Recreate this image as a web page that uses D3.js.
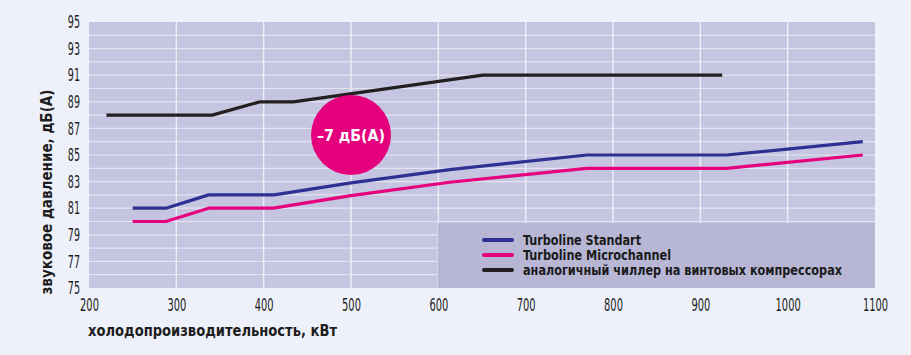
<!DOCTYPE html>
<html><head><meta charset="utf-8">
<script src="https://cdn.jsdelivr.net/npm/d3@7"></script>
<style>
html,body{margin:0;padding:0;background:#eef1f9;}
svg{display:block;}
</style></head>
<body>
<svg id="chart" width="911" height="355"></svg>
<script>
// ---- data ----
const xTicks = [200,300,400,500,600,700,800,900,1000,1100];
const yTicks = [75,77,79,81,83,85,87,89,91,93,95];
const seriesNames = ["Turboline Standart","Turboline Microchannel","аналогичный чиллер на винтовых компрессорах"];
const standartX = [250,288,337,412,500,613,770,930,1086];
const standartY = [81,81,82,82,82.9,83.9,85,85,86];
const microX = [250,288,337,411,500,613,770,930,1086];
const microY = [80,80,81,81,81.95,82.95,84,84,85];
const screwX = [220,341,396,434,651,925];
const screwY = [88,88,89,89,91,91];
const badgeLabel = "–7 дБ(A)";
const xTitle = "холодопроизводительность, кВт";
const yTitle = "звуковое давление, дБ(A)";
const colors = ["#2e3192","#e5007d","#231f20"];

const svg = d3.select("#chart");
const L=89, R=875, T=22, B=288;
const x = d3.scaleLinear().domain([200,1100]).range([L,R]);
const y = d3.scaleLinear().domain([75,95]).range([B,T]);

svg.append("rect").attr("x",L).attr("y",T).attr("width",R-L).attr("height",B-T).attr("fill","#c6c5e1");

// grid
const g = svg.append("g");
g.selectAll("line.h").data(d3.range(76,95)).join("line")
 .attr("x1",L).attr("x2",R).attr("y1",d=>y(d)).attr("y2",d=>y(d))
 .attr("stroke","#e4e4f2").attr("stroke-width",1.2);
g.selectAll("line.v").data(xTicks.slice(1,-1)).join("line")
 .attr("x1",d=>x(d)).attr("x2",d=>x(d)).attr("y1",T).attr("y2",B)
 .attr("stroke","#eeeef8").attr("stroke-width",1.4);

// legend box
svg.append("rect").attr("x",438).attr("y",223).attr("width",R-438).attr("height",B-223).attr("fill","#b7b6d5");

const lineGen = d3.line().x(d=>x(d[0])).y(d=>y(d[1]));
const series = [
  d3.zip(standartX,standartY),
  d3.zip(microX,microY),
  d3.zip(screwX,screwY)
];
series.forEach((s,i)=>{
  svg.append("path").datum(s).attr("d",lineGen).attr("fill","none")
   .attr("stroke",colors[i]).attr("stroke-width",3.2).attr("stroke-linejoin","round");
});

// badge
svg.append("circle").attr("cx",x(500)).attr("cy",135).attr("r",40).attr("fill","#e5007d");
svg.append("text").attr("x",x(500)).attr("y",141).attr("text-anchor","middle")
 .attr("fill","#fff").attr("font-family","'DejaVu Sans Condensed','DejaVu Sans'")
 .attr("font-weight","bold").attr("font-size",16).text(badgeLabel)
 .attr("textLength",68).attr("lengthAdjust","spacingAndGlyphs");

// legend
const lg = svg.append("g");
seriesNames.forEach((n,i)=>{
  const yy = 240 + i*15;
  lg.append("line").attr("x1",484).attr("x2",512).attr("y1",yy).attr("y2",yy)
    .attr("stroke",colors[i]).attr("stroke-width",4).attr("stroke-linecap","round");
  lg.append("text").attr("x",523).attr("y",yy+5).text(n)
    .attr("font-family","'DejaVu Sans Condensed','DejaVu Sans'").attr("font-weight","bold")
    .attr("font-size",13.5).attr("fill","#1a1a1a");
});
lg.selectAll("text").each(function(d,i){
  const w=[118,148,319][i];
  d3.select(this).attr("textLength",w).attr("lengthAdjust","spacingAndGlyphs");
});

// axes
const tickFont = "'Liberation Sans Narrow','DejaVu Sans Condensed',sans-serif";
const xAxis = svg.append("g").attr("transform",`translate(0,${B})`)
 .call(d3.axisBottom(x).tickValues(xTicks).tickSize(0).tickPadding(10).tickFormat(d3.format("d")));
xAxis.select(".domain").remove();
xAxis.selectAll("text").attr("font-family",tickFont).attr("font-size",18).attr("fill","#1d1d1d")
 .attr("textLength",function(d){return String(d).length*6.3;}).attr("lengthAdjust","spacingAndGlyphs");

const yAxis = svg.append("g").attr("transform",`translate(${L},0)`)
 .call(d3.axisLeft(y).tickValues(yTicks).tickSize(0).tickPadding(9).tickFormat(d3.format("d")));
yAxis.select(".domain").remove();
yAxis.selectAll("text").attr("font-family",tickFont).attr("font-size",18).attr("fill","#1d1d1d")
 .attr("textLength",function(d){return String(d).length*6.1;}).attr("lengthAdjust","spacingAndGlyphs");

svg.append("text").attr("x",88).attr("y",336).text(xTitle)
 .attr("font-family","'DejaVu Sans Condensed','DejaVu Sans'").attr("font-weight","bold")
 .attr("font-size",16).attr("fill","#1d1d1d").attr("textLength",249).attr("lengthAdjust","spacingAndGlyphs");
svg.append("text").attr("transform","translate(52,192) rotate(-90)").attr("text-anchor","middle").text(yTitle)
 .attr("font-family","'DejaVu Sans Condensed','DejaVu Sans'").attr("font-weight","bold")
 .attr("font-size",15).attr("fill","#1d1d1d").attr("textLength",205).attr("lengthAdjust","spacingAndGlyphs");
</script>
</body></html>
